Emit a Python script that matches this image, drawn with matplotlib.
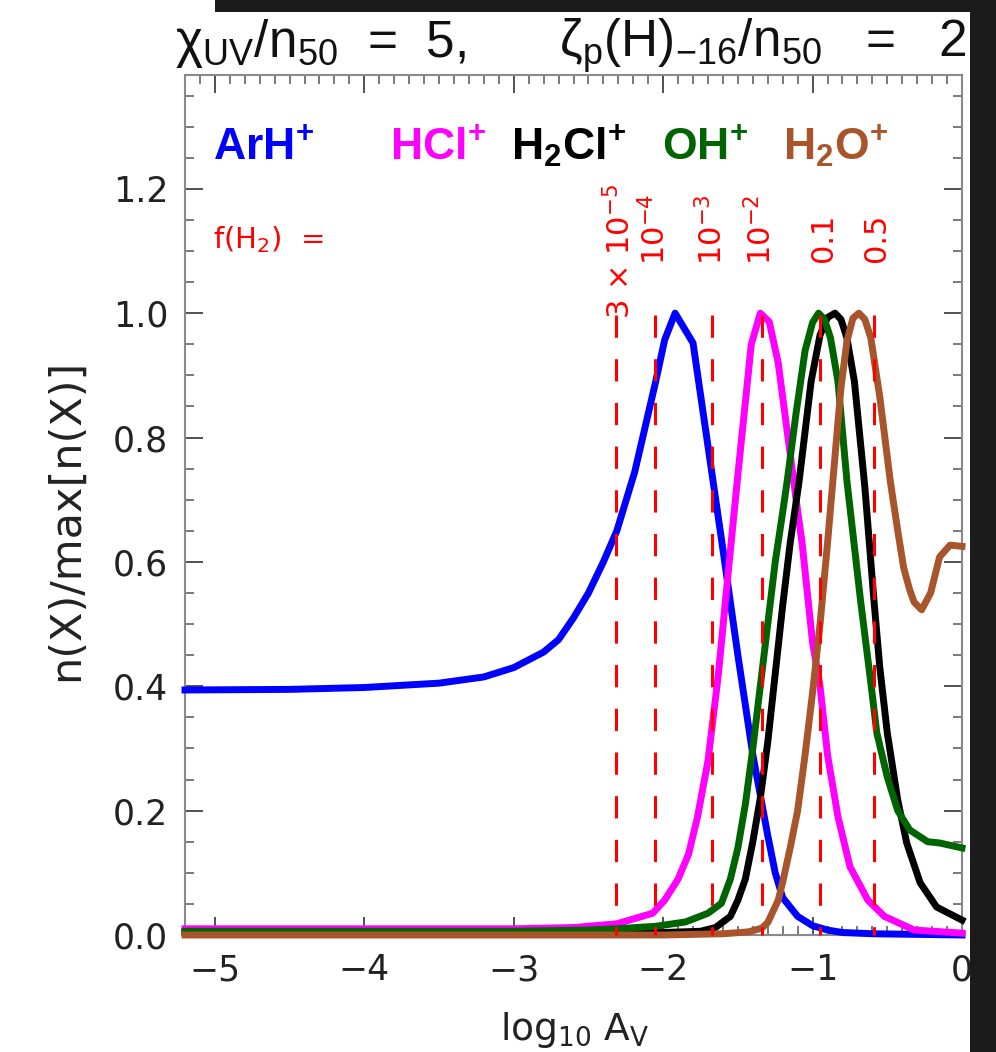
import matplotlib
matplotlib.use('Agg')
import matplotlib.pyplot as plt
from matplotlib.patches import Rectangle
from matplotlib.ticker import MultipleLocator, FormatStrFormatter

base = 'Liberation Sans'
wide = 'DejaVu Sans'

plt.rcParams['font.family'] = [base, 'DejaVu Sans']
plt.rcParams['mathtext.fontset'] = 'custom'
plt.rcParams['mathtext.rm'] = base
plt.rcParams['mathtext.it'] = base + ':italic'
plt.rcParams['mathtext.bf'] = base + ':bold'
plt.rcParams['axes.unicode_minus'] = True

# ---------------- data ----------------
arh_x = [-5.2, -4.5, -4.0, -3.5, -3.2, -3.0, -2.8, -2.7, -2.6, -2.5, -2.4, -2.31, -2.19,
         -2.05, -1.99, -1.92, -1.80, -1.68, -1.60, -1.50, -1.40, -1.30, -1.25, -1.20,
         -1.10, -1.00, -0.90, -0.80, -0.60, -0.30, 0.0]
arh_y = [0.394, 0.395, 0.398, 0.405, 0.415, 0.43, 0.455, 0.475, 0.51, 0.55, 0.60, 0.65, 0.745,
         0.89, 0.957, 1.0, 0.952, 0.753, 0.62, 0.45, 0.29, 0.16, 0.10, 0.06,
         0.03, 0.015, 0.008, 0.004, 0.002, 0.001, 0.0]

hcl_x = [-5.2, -3.0, -2.6, -2.31, -2.07, -1.99, -1.90, -1.83, -1.77, -1.70, -1.63, -1.57,
         -1.50, -1.41, -1.35, -1.29, -1.23, -1.17, -1.11, -1.07, -1.00, -0.95, -0.90, -0.83,
         -0.75, -0.63, -0.52, -0.32, 0.0]
hcl_y = [0.01, 0.01, 0.012, 0.018, 0.035, 0.056, 0.09, 0.13, 0.19, 0.28, 0.42, 0.57,
         0.74, 0.95, 1.0, 0.986, 0.92, 0.81, 0.70, 0.63, 0.47, 0.40, 0.29, 0.19,
         0.11, 0.056, 0.03, 0.008, 0.003]

h2cl_x = [-5.2, -2.0, -1.75, -1.65, -1.55, -1.50, -1.45, -1.40, -1.35, -1.30, -1.25, -1.20,
          -1.15, -1.09, -1.01, -0.95, -0.90, -0.85, -0.81, -0.77, -0.72, -0.65, -0.59, -0.55,
          -0.50, -0.43, -0.37, -0.28, -0.17, 0.0]
h2cl_y = [0.004, 0.004, 0.006, 0.012, 0.03, 0.056, 0.09, 0.15, 0.22, 0.31, 0.42, 0.53,
          0.63, 0.73, 0.89, 0.965, 0.993, 1.0, 0.99, 0.96, 0.89, 0.72, 0.54, 0.43,
          0.325, 0.217, 0.148, 0.084, 0.045, 0.024]

oh_x = [-5.2, -3.0, -2.5, -2.31, -2.05, -1.85, -1.70, -1.61, -1.55, -1.50, -1.45, -1.40,
        -1.35, -1.30, -1.25, -1.20, -1.17, -1.11, -1.05, -1.00, -0.96, -0.92, -0.88, -0.83,
        -0.77, -0.68, -0.61, -0.57, -0.50, -0.43, -0.35, -0.23, -0.15, 0.0]
oh_y = [0.006, 0.006, 0.008, 0.01, 0.014, 0.021, 0.035, 0.051, 0.09, 0.14, 0.21, 0.30,
        0.40, 0.50, 0.60, 0.68, 0.73, 0.84, 0.94, 0.985, 1.0, 0.99, 0.96, 0.89,
        0.73, 0.54, 0.405, 0.325, 0.254, 0.20, 0.169, 0.15, 0.148, 0.14]

h2o_x = [-5.2, -2.0, -1.6, -1.43, -1.34, -1.30, -1.23, -1.20, -1.15, -1.10, -1.05, -1.00,
         -0.95, -0.90, -0.85, -0.81, -0.77, -0.73, -0.69, -0.65, -0.61, -0.55, -0.48, -0.43,
         -0.39, -0.35, -0.32, -0.27, -0.21, -0.15, -0.08, 0.0]
h2o_y = [0.0, 0.0, 0.002, 0.005, 0.011, 0.02, 0.056, 0.085, 0.14, 0.20, 0.29, 0.39,
         0.50, 0.63, 0.77, 0.88, 0.955, 0.992, 1.0, 0.99, 0.96, 0.865, 0.73, 0.65,
         0.59, 0.555, 0.535, 0.523, 0.55, 0.608, 0.627, 0.625]

species = ['ArH^{+}', 'HCl^{+}', 'H_{2}Cl^{+}', 'OH^{+}', 'H_{2}O^{+}']
fh2_positions = [-2.313, -2.053, -1.673, -1.340, -0.947, -0.587]
fh2_labels = [r'3 $\times$ 10$^{-5}$', '10$^{-4}$', '10$^{-3}$', '10$^{-2}$', '0.1', '0.5']

xticks = [-5, -4, -3, -2, -1, 0]
xticklabels = ['\u22125', '\u22124', '\u22123', '\u22122', '\u22121', '0']
yticks = [0.0, 0.2, 0.4, 0.6, 0.8, 1.0, 1.2]

# ---------------- figure ----------------
W, H = 996, 1052
fig = plt.figure(figsize=(W / 100, H / 100), dpi=100)
fig.patch.set_facecolor('white')

L, R, T, B = 185, 962, 75, 935
ax = fig.add_axes([L / W, 1 - B / H, (R - L) / W, (B - T) / H])
ax.set_xlim(-5.2, 0.0)
ax.set_ylim(0.0, 1.383)

lw = 5
curves = [(arh_x, arh_y, '#0000ff'), (hcl_x, hcl_y, '#ff00ff'), (h2cl_x, h2cl_y, '#000000'),
          (oh_x, oh_y, '#006400'), (h2o_x, h2o_y, '#a8552c')]
for cx, cy, col in curves:
    ax.plot(cx, cy, color=col, lw=lw, solid_joinstyle='round', clip_on=False, zorder=3)

for xv in fh2_positions:
    ax.plot([xv, xv], [0.997, 0.0], color='#ff0000', lw=2.2, ls=(0, (7.3, 7.0)), zorder=4,
            clip_on=False)

# ticks
ax.set_xticks(xticks)
ax.set_yticks(yticks)
ax.xaxis.set_minor_locator(MultipleLocator(0.1))
ax.yaxis.set_minor_locator(MultipleLocator(0.05))
ax.yaxis.set_major_formatter(FormatStrFormatter('%.1f'))
ax.set_xticklabels(xticklabels)
ax.tick_params(which='both', direction='in', top=True, right=True, color='#555555', width=1.1)
ax.tick_params(which='major', length=13, labelsize=25, colors='#222222')
ax.tick_params(which='minor', length=6.5)
ax.tick_params(axis='y', pad=12)
ax.tick_params(axis='x', pad=13)
for lab in ax.get_xticklabels() + ax.get_yticklabels():
    lab.set_family(wide)
for s in ax.spines.values():
    s.set_color('#8a8a8a')
    s.set_linewidth(1.5)

# axis labels
fig.text(66 / W, 1 - 520 / H, 'n(X)/max[n(X)]', rotation=90, ha='center', va='center',
         fontsize=31, color='#222222', family=wide)
fig.text(575 / W, 1 - 1040 / H, r'log$_{10}$ A$_{\mathrm{V}}$', ha='center', va='baseline',
         fontsize=27, color='#222222', family=wide, math_fontfamily='dejavusans')

# title (two pieces)
fig.text(175 / W, 1 - 57 / H, r'χ$_{\mathrm{UV}}$/n$_{50}$  =  5,',
         ha='left', va='baseline', fontsize=37, color='#111111')
fig.text(559 / W, 1 - 57 / H, r'ζ$_{\mathrm{p}}$(H)$_{-16}$/n$_{50}$   =   2',
         ha='left', va='baseline', fontsize=37, color='#111111')

# species labels
spec_x = [-5.01, -3.83, -3.02, -2.01, -1.20]
spec_col = ['#0000ff', '#ff00ff', '#000000', '#006400', '#a8552c']
for sx, lab, col in zip(spec_x, species, spec_col):
    ax.text(sx, 1.247, r'$\mathbf{' + lab + '}$', color=col, fontsize=32,
            ha='left', va='baseline')

# f(H2) labels
ax.text(-5.01, 1.118, 'f(H$_{2}$)  =', color='#ff0000', fontsize=21, ha='left', va='center',
        family=wide, math_fontfamily='dejavusans')
label_x = [-2.285, -2.053, -1.673, -1.345, -0.93, -0.57]
label_y = [0.99, 1.078, 1.078, 1.078, 1.083, 1.083]
for lxv, lyv, lab in zip(label_x, label_y, fh2_labels):
    ax.text(lxv, lyv, lab, rotation=90, color='#ff0000', fontsize=22,
            ha='center', va='bottom', family=wide, math_fontfamily='dejavusans')

# dark screenshot border regions
dark = '#1b1b1b'
fig.add_artist(Rectangle((215 / W, 1 - 12 / H), 1, 12 / H, transform=fig.transFigure,
                         facecolor=dark, edgecolor='none', zorder=10))
fig.add_artist(Rectangle((970 / W, 0), 26 / W, 1, transform=fig.transFigure,
                         facecolor=dark, edgecolor='none', zorder=10))

fig.savefig('out.png', dpi=100, facecolor='white')
